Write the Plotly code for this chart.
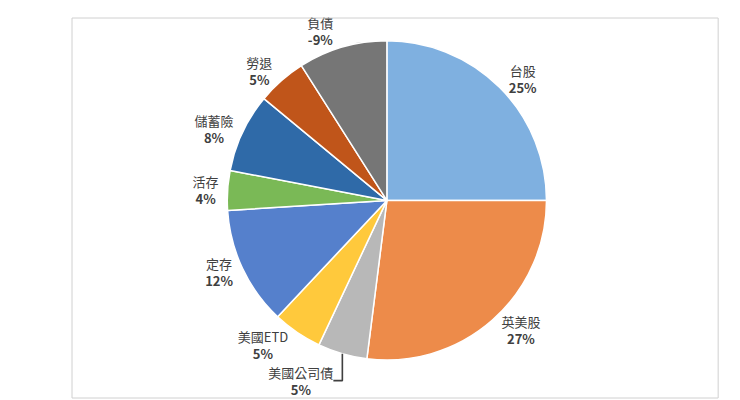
import plotly.graph_objects as go

labels = ["台股", "英美股", "美國公司債", "美國ETD", "定存", "活存", "儲蓄險", "勞退", "負債"]
values = [25, 27, 5, 5, 12, 4, 8, 5, 9]
shown = ["25%", "27%", "5%", "5%", "12%", "4%", "8%", "5%", "-9%"]
colors = ["#7fb0e0", "#ed8b4a", "#b8b8b8", "#ffc93c", "#5580cc",
          "#7ab956", "#2f6aa8", "#c0551a", "#767676"]

fig = go.Figure(go.Pie(
    labels=labels, values=values, customdata=shown,
    sort=False, direction="clockwise", rotation=0,
    marker=dict(colors=colors, line=dict(color="white", width=1.5)),
    texttemplate="%{label}<br><b>%{customdata}</b>",
    textposition="outside",
    textfont=dict(family="Noto Sans CJK TC", size=13, color="#404040"),
    showlegend=False,
    domain=dict(x=[0.1, 0.86], y=[0.1, 0.94]),
))
fig.update_layout(
    width=740, height=400,
    margin=dict(l=10, r=20, t=10, b=10),
    paper_bgcolor="white",
    shapes=[dict(type="rect", xref="paper", yref="paper", x0=0.0, x1=0.985,
                 y0=0.0, y1=1.0, line=dict(color="#d0d0d0", width=1))],
)
fig.write_html("out.html")
